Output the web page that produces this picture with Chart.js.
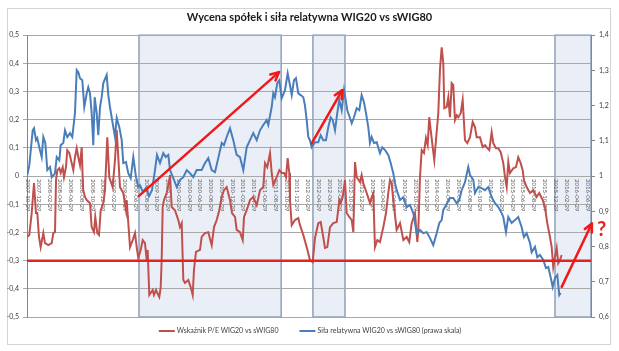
<!DOCTYPE html>
<html><head><meta charset="utf-8">
<script src="https://cdn.jsdelivr.net/npm/chart.js@4.4.1/dist/chart.umd.min.js"></script>
<style>html,body{margin:0;padding:0;background:#fff;}</style>
</head><body>
<canvas id="c" width="619" height="351"></canvas>
<script>
// x values are months since 2007-10-29
const xTickLabels = [
"2007-10-29","2007-12-29",
"2008-02-29","2008-04-29","2008-06-29","2008-08-29","2008-10-29","2008-12-29",
"2009-02-29","2009-04-29","2009-06-29","2009-08-29","2009-10-29","2009-12-29",
"2010-02-29","2010-04-29","2010-06-29","2010-08-29","2010-10-29","2010-12-29",
"2011-02-29","2011-04-29","2011-06-29","2011-08-29","2011-10-29","2011-12-29",
"2012-02-29","2012-04-29","2012-06-29","2012-08-29","2012-10-29","2012-12-29",
"2013-02-29","2013-04-29","2013-06-29","2013-08-29","2013-10-29","2013-12-29",
"2014-02-29","2014-04-29","2014-06-29","2014-08-29","2014-10-29","2014-12-29",
"2015-02-29","2015-04-29","2015-06-29","2015-08-29","2015-10-29","2015-12-29",
"2016-02-29","2016-04-29","2016-06-29"];
const xTickMonths = [0,2,4,6,8,10,12,14,16,18,20,22,24,26,28,30,32,34,36,38,40,42,44,46,48,50,52,54,56,58,60,62,64,66,68,70,72,74,76,78,80,82,84,86,88,90,92,94,96,98,100,102,104];

const peLabel = "Wskaźnik P/E WIG20 vs sWIG80";
const peX = [0,0.43,0.87,1.30,1.67,1.91,2.23,2.54,3.03,3.34,
3.96,4.59,4.88,5.20,5.39,5.63,6.00,6.26,6.63,6.87,
7.24,7.48,7.86,8.30,8.60,8.91,9.23,9.53,9.84,10.16,
10.34,10.45,10.77,11.09,11.70,12.01,12.44,12.68,13.05,13.37,
13.69,14.17,14.48,14.91,15.28,15.91,16.34,16.66,16.95,17.27,
17.88,18.38,18.51,19.13,19.63,20.06,20.37,20.67,21.11,21.49,
21.91,22.23,22.41,22.71,22.97,23.34,23.58,23.96,24.20,24.57,
24.83,25.01,25.20,25.44,25.94,26.43,26.56,26.87,27.48,28.10,
28.41,28.73,29.03,29.34,29.95,30.40,30.77,31.01,31.38,32.13,
32.44,33.05,33.67,34.30,34.73,35.23,35.71,36.16,36.58,37.08,
37.70,38.07,38.63,38.94,39.55,40.06,40.30,40.80,41.41,42.02,
42.66,43.27,43.88,44.20,44.62,45.13,45.44,45.74,46.37,46.85,
47.30,47.73,48.10,48.41,48.71,48.84,49.16,49.77,50.38,50.70,
51.31,51.94,52.55,53.05,53.48,54.09,54.54,55.02,55.34,55.77,
56.27,56.89,57.52,58.00,58.26,58.63,59.05,59.37,59.85,60.30,
60.60,60.91,61.23,61.84,62.15,62.45,63.08,63.70,64.01,64.31,
64.62,65.05,65.55,66.17,66.67,67.09,67.41,67.72,68.02,68.65,
69.27,69.89,70.51,70.99,71.44,72.05,72.48,72.67,72.98,73.30,
73.72,74.09,74.41,74.70,74.97,75.34,75.64,75.95,76.38,76.69,
77.01,77.31,77.49,77.94,78.24,78.55,78.87,79.16,79.48,79.80,
80.09,80.54,80.91,81.34,81.77,82.27,82.77,83.19,83.51,84.12,
84.62,85.05,85.48,85.85,86.29,86.59,87.09,87.52,87.97,88.45,
88.77,89.08,89.38,89.69,90.31,90.81,91.23,91.68,92.05,92.29,
92.79,93.41,94.02,94.65,95.13,95.77,96.19,96.62,97.12,97.44,
97.73,98.05,98.37,98.66,98.98,99.29];
const peY = [-0.216,-0.209,-0.131,-0.025,-0.131,-0.131,-0.216,-0.252,-0.202,-0.238,
-0.245,-0.238,-0.202,-0.199,-0.014,0.021,0.028,0.011,0.032,-0.004,
0.032,0.092,0.082,0.046,0.021,0.067,0.099,0.067,0.039,0.103,
-0.007,-0.050,-0.074,-0.085,-0.096,-0.181,-0.199,-0.145,-0.202,-0.209,
-0.121,-0.096,-0.050,0.138,-0.004,-0.039,0.057,0.163,0.067,-0.039,
-0.060,-0.121,-0.085,-0.252,-0.227,-0.202,-0.252,-0.291,-0.262,-0.227,
-0.238,-0.298,-0.262,-0.422,-0.415,-0.404,-0.422,-0.404,-0.415,-0.429,
-0.394,-0.298,-0.110,-0.085,-0.060,-0.014,0.004,-0.110,-0.121,-0.156,
-0.181,-0.167,-0.369,-0.379,-0.369,-0.394,-0.422,-0.333,-0.269,-0.262,
-0.216,-0.202,-0.199,-0.245,-0.181,-0.156,-0.121,-0.074,-0.050,-0.039,
-0.085,-0.131,-0.145,-0.191,-0.199,-0.227,-0.145,-0.121,-0.085,-0.074,
-0.103,-0.050,-0.039,0.046,0.032,0.082,0.011,-0.032,-0.004,0.021,
0.011,0.011,-0.004,0.064,0.011,-0.085,-0.174,-0.156,-0.149,-0.174,
-0.209,-0.252,-0.298,-0.305,-0.220,-0.167,-0.163,-0.216,-0.255,-0.252,
-0.181,-0.167,-0.163,-0.085,-0.096,-0.074,-0.014,-0.131,-0.145,-0.156,
-0.199,0.050,-0.004,-0.021,0.004,-0.025,-0.060,-0.096,-0.074,-0.060,
-0.252,-0.227,-0.234,-0.181,-0.131,-0.060,-0.014,-0.025,-0.085,-0.191,
-0.167,-0.227,-0.216,-0.234,-0.167,-0.131,-0.234,-0.191,-0.004,0.092,
0.082,0.135,0.110,0.209,0.163,0.103,0.057,0.128,0.223,0.376,
0.457,0.401,0.241,0.245,0.280,0.209,0.330,0.323,0.199,0.216,
0.209,0.223,0.270,0.128,0.117,0.138,0.192,0.174,0.138,0.138,
0.103,0.110,0.099,0.092,0.156,0.117,0.099,0.099,0.085,0.046,
-0.004,-0.039,0.050,0.011,0.028,0.032,0.067,0.046,0.021,-0.014,
-0.039,-0.060,-0.050,-0.074,-0.060,-0.085,-0.110,-0.167,-0.216,-0.252,
-0.323,-0.287,-0.255,-0.309,-0.298,-0.280];

const relLabel = "Siła relatywna WIG20 vs sWIG80 (prawa skala)";
const relX = [0.06,0.43,1.06,1.30,1.67,1.91,2.28,2.73,3.03,3.40,
3.77,4.27,4.59,5.20,5.52,6.00,6.26,6.74,7.06,7.48,
7.99,8.41,8.91,9.23,9.53,9.84,10.27,10.64,11.09,11.38,
11.70,12.01,12.31,12.57,12.94,13.24,13.56,13.87,14.17,14.80,
15.10,15.41,15.91,16.34,16.66,17.14,17.59,17.88,18.38,18.81,
19.26,19.74,20.24,20.67,20.98,21.54,22.10,22.66,23.21,23.77,
24.14,24.70,25.31,25.76,26.24,26.56,27.17,27.80,28.41,29.03,
29.66,30.27,30.88,31.51,32.44,33.05,33.67,34.30,34.91,35.52,
36.16,36.58,37.08,37.70,38.31,38.94,39.55,40.17,40.80,41.41,
42.02,42.66,43.27,43.88,44.51,44.81,45.44,45.74,46.05,46.48,
46.85,47.30,47.91,48.41,48.84,49.16,49.58,49.95,50.38,50.83,
51.31,51.62,51.94,52.24,52.55,52.87,53.48,54.09,54.54,55.02,
55.52,55.95,56.40,56.77,57.20,57.62,57.99,58.44,58.87,59.18,
59.48,59.98,60.30,60.72,61.23,61.71,62.15,62.58,62.95,63.38,
63.69,64.01,64.44,64.94,65.55,65.98,66.48,67.09,67.54,68.02,
68.34,68.66,69.27,69.89,70.52,71.12,71.74,72.05,72.37,72.98,
73.59,74.23,74.84,75.45,76.08,76.57,77.01,77.31,77.94,78.55,
79.16,79.80,80.28,80.72,81.34,81.95,82.27,82.88,83.19,83.81,
84.44,85.05,85.66,86.29,86.91,87.52,88.15,88.45,88.95,89.38,
90.01,90.62,91.23,91.86,92.29,92.79,93.41,93.72,94.34,94.76,
95.26,95.88,96.38,96.81,97.25,97.62,98.05,98.48,98.85,99.11];
const relY = [1.003,1.031,1.130,1.136,1.102,1.108,1.082,1.054,1.111,1.094,
1.017,1.026,0.997,1.008,1.054,1.045,1.088,1.094,1.130,1.111,
1.122,1.111,1.179,1.301,1.295,1.278,1.272,1.196,1.235,1.252,
1.235,1.179,1.088,1.224,1.179,1.116,1.196,1.224,1.264,1.287,
1.230,1.196,1.150,1.111,1.165,1.139,1.102,1.037,1.040,1.008,
0.994,1.054,0.997,0.969,0.974,0.955,0.966,0.943,0.960,1.017,
1.060,1.037,1.065,1.054,1.060,1.017,0.994,0.969,0.989,0.997,
1.017,1.008,0.997,1.017,1.017,1.037,1.051,1.017,1.011,1.051,
1.094,1.088,1.111,1.136,1.102,1.060,1.054,1.017,1.082,1.102,
1.122,1.102,1.130,1.145,1.159,1.145,1.196,1.235,1.224,1.264,
1.272,1.221,1.244,1.292,1.258,1.230,1.272,1.278,1.235,1.230,
1.224,1.201,1.159,1.111,1.102,1.082,1.096,1.096,1.116,1.102,
1.102,1.139,1.167,1.159,1.130,1.179,1.216,1.187,1.244,1.216,
1.187,1.165,1.150,1.167,1.193,1.187,1.230,1.210,1.179,1.139,
1.094,1.111,1.094,1.096,1.065,1.082,1.074,1.060,1.037,1.008,
0.980,0.960,0.932,0.940,0.912,0.918,0.895,0.867,0.838,0.847,
0.838,0.841,0.824,0.804,0.838,0.867,0.875,0.904,0.921,0.938,
0.938,0.923,0.932,0.960,0.983,1.026,1.003,0.989,0.952,0.969,
0.966,0.960,0.969,0.940,0.923,0.912,0.895,0.884,0.841,0.884,
0.867,0.875,0.884,0.855,0.827,0.838,0.810,0.784,0.799,0.770,
0.776,0.762,0.739,0.742,0.713,0.685,0.711,0.719,0.662,0.668];

const peThreshold = -0.3;
// shaded periods [start month, end month]
const shadedPeriods = [[20.8,47.2],[53.1,59.05],[98.05,104.74]];
// arrows [x1, y1, x2, y2] in (month, P/E axis value)
const arrowsData = [[20.8,-0.070,46.8,0.369],[52.87,0.116,58.55,0.305],[99.3,-0.393,104.9,-0.168]];
const questionMark = {x:106.7, y:-0.19, text:"?"};

const X_MAX = 104.74;
const FONT = "Lato, 'Open Sans', sans-serif";
const RED = "#c0504d", BLUE = "#4a7ebb";

function fmt(v){ const r = Math.round(v*10)/10; return r===0 ? "0" : String(r).replace(".", ","); }

function arrow(ctx,x1,y1,x2,y2){
  ctx.beginPath(); ctx.moveTo(x1,y1); ctx.lineTo(x2,y2); ctx.stroke();
  const ang = Math.atan2(y2-y1,x2-x1), L = 9, w = Math.PI/7;
  ctx.beginPath();
  ctx.moveTo(x2-L*Math.cos(ang-w), y2-L*Math.sin(ang-w));
  ctx.lineTo(x2,y2);
  ctx.lineTo(x2-L*Math.cos(ang+w), y2-L*Math.sin(ang+w));
  ctx.stroke();
}

const decor = {
  id: "decor",
  beforeDraw(chart){
    const {ctx, chartArea:a, scales:{x}} = chart;
    ctx.save();
    ctx.fillStyle = "#fff"; ctx.fillRect(0,0,chart.width,chart.height);
    ctx.strokeStyle = "#d4d4d4"; ctx.lineWidth = 1; ctx.strokeRect(7.5,8.5,603,336);
    shadedPeriods.forEach(([s,e]) => {
      const x1 = x.getPixelForValue(s), x2 = Math.min(x.getPixelForValue(e), a.right);
      ctx.fillStyle = "#eaeff7"; ctx.fillRect(x1,a.top,x2-x1,a.bottom-a.top);
      ctx.strokeStyle = "#8ea0ba"; ctx.lineWidth = 1.5; ctx.strokeRect(x1,a.top,x2-x1,a.bottom-a.top);
    });
    ctx.restore();
  },
  beforeDatasetsDraw(chart){
    const {ctx, scales:{x,y}} = chart;
    const y0 = y.getPixelForValue(0);
    ctx.save();
    ctx.font = "6px " + FONT; ctx.fillStyle = "#595959";
    ctx.textAlign = "left"; ctx.textBaseline = "middle";
    xTickLabels.forEach((lab,i) => {
      const px = x.getPixelForValue(xTickMonths[i]);
      ctx.save(); ctx.translate(px+1, y0+3); ctx.rotate(Math.PI/2); ctx.fillText(lab,0,0); ctx.restore();
    });
    ctx.restore();
  },
  afterDatasetsDraw(chart){
    const {ctx, scales:{x,y}} = chart;
    ctx.save();
    ctx.strokeStyle = "#f01818"; ctx.lineWidth = 2.5; ctx.lineCap = "round"; ctx.lineJoin = "round";
    arrowsData.forEach(([a,b,c,d]) => arrow(ctx, x.getPixelForValue(a), y.getPixelForValue(b), x.getPixelForValue(c), y.getPixelForValue(d)));
    ctx.fillStyle = "#e82020"; ctx.font = "bold 20px " + FONT; ctx.textAlign = "center"; ctx.textBaseline = "middle";
    ctx.fillText(questionMark.text, x.getPixelForValue(questionMark.x), y.getPixelForValue(questionMark.y));
    // legend
    const items = [[RED, peLabel],[BLUE, relLabel]];
    ctx.font = "7px " + FONT; ctx.textAlign = "left";
    const lineLen = 16, gap = 2, sep = 21;
    const widths = items.map(it => ctx.measureText(it[1]).width);
    const total = items.length*(lineLen+gap) + widths[0] + widths[1] + sep;
    let cx = 310 - total/2; const ly = 331;
    items.forEach((it,i) => {
      ctx.strokeStyle = it[0]; ctx.lineWidth = 2; ctx.lineCap = "butt";
      ctx.beginPath(); ctx.moveTo(cx, ly); ctx.lineTo(cx+lineLen, ly); ctx.stroke();
      ctx.fillStyle = "#404040"; ctx.fillText(it[1], cx+lineLen+gap, ly);
      cx += lineLen + gap + widths[i] + sep;
    });
    ctx.restore();
  }
};

new Chart(document.getElementById("c"), {
  type: "line",
  data: { datasets: [
    { label: "P/E -0,3", data: [{x:0,y:peThreshold},{x:X_MAX,y:peThreshold}], borderColor: "#e02424", borderWidth: 2.5, pointRadius: 0, yAxisID: "y" },
    { label: relLabel, data: relX.map((v,i)=>({x:v,y:relY[i]})), borderColor: BLUE, borderWidth: 2, pointRadius: 0, yAxisID: "y2" },
    { label: peLabel, data: peX.map((v,i)=>({x:v,y:peY[i]})), borderColor: RED, borderWidth: 2, pointRadius: 0, yAxisID: "y" }
  ]},
  options: {
    responsive: false, animation: false, parsing: true,
    layout: { padding: { left: 0, right: 0, top: 0, bottom: 34 } },
    plugins: {
      legend: { display: false },
      tooltip: { enabled: false },
      title: { display: true, text: "Wycena spółek i siła relatywna WIG20 vs sWIG80",
        font: { family: FONT, size: 11, weight: "bold" }, color: "#1a1a1a", padding: { top: 11, bottom: 11 } }
    },
    scales: {
      x: { type: "linear", min: 0, max: X_MAX, display: false },
      y: { position: "left", min: -0.5, max: 0.5,
        ticks: { stepSize: 0.1, callback: fmt, font: { family: FONT, size: 7 }, color: "#404040", padding: 4 },
        grid: { color: "#a8a8a8", lineWidth: 1, tickLength: 4 },
        border: { color: "#868686", width: 1 },
        afterFit: s => { s.width = 27; } },
      y2: { position: "right", min: 0.6, max: 1.4,
        ticks: { stepSize: 0.1, callback: fmt, font: { family: FONT, size: 7 }, color: "#404040", padding: 4 },
        grid: { drawOnChartArea: false, color: "#868686", tickLength: 4 },
        border: { color: "#868686", width: 1 },
        afterFit: s => { s.width = 28; } }
    }
  },
  plugins: [decor]
});
</script>
</body></html>
